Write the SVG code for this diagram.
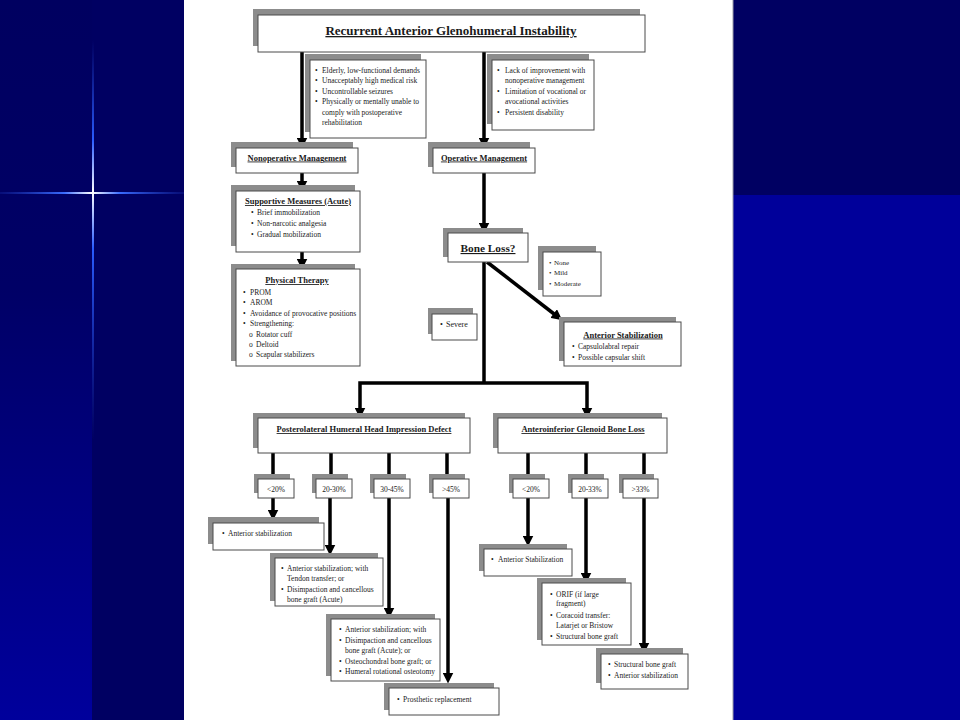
<svg xmlns="http://www.w3.org/2000/svg" width="960" height="720" viewBox="0 0 960 720">
<defs>
<style>
.sh{fill:#8c8c8c}
.bx{fill:#fff;stroke:#4a4a4a;stroke-width:1}
.t{font-family:"Liberation Serif","Times New Roman",serif;font-size:7.5px;fill:#1a1a1a}
.h{font-family:"Liberation Serif","Times New Roman",serif;font-size:8.5px;font-weight:bold;fill:#1a1a1a;text-decoration:underline;text-anchor:middle}
.c{text-anchor:middle}
.ln{fill:none;stroke:#000;stroke-width:3.5;stroke-linejoin:miter}
.ar{fill:none;stroke:#000;stroke-width:3.5;stroke-linejoin:miter;marker-end:url(#ah)}
</style>
<marker id="ah" markerUnits="userSpaceOnUse" markerWidth="11" markerHeight="11" viewBox="0 0 10 10" refX="5" refY="5" orient="auto">
<path d="M0,0 L10,5 L0,10 z" fill="#000"/>
</marker>
<linearGradient id="lg" x1="0" y1="0" x2="0" y2="1">
<stop offset="0" stop-color="#000060"/>
<stop offset="0.4" stop-color="#000066"/>
<stop offset="1" stop-color="#00009c"/>
</linearGradient>
<linearGradient id="hx" gradientUnits="userSpaceOnUse" x1="0" y1="0" x2="184" y2="0">
<stop offset="0" stop-color="#2244cc" stop-opacity="0.2"/>
<stop offset="0.35" stop-color="#3a6cff"/>
<stop offset="0.5" stop-color="#ffffff"/>
<stop offset="0.65" stop-color="#3a6cff"/>
<stop offset="1" stop-color="#2244cc" stop-opacity="0.2"/>
</linearGradient>
<linearGradient id="vx" gradientUnits="userSpaceOnUse" x1="0" y1="40" x2="0" y2="440">
<stop offset="0" stop-color="#2244cc" stop-opacity="0"/>
<stop offset="0.25" stop-color="#2a5cff"/>
<stop offset="0.38" stop-color="#ffffff"/>
<stop offset="0.52" stop-color="#2a5cff"/>
<stop offset="1" stop-color="#2244cc" stop-opacity="0"/>
</linearGradient>
</defs>

<!-- background -->
<rect x="0" y="0" width="960" height="720" fill="#000062"/>
<rect x="0" y="0" width="92" height="720" fill="url(#lg)"/>
<rect x="733" y="195" width="227" height="525" fill="#00009a"/>
<rect x="0" y="192" width="184" height="2" fill="url(#hx)"/>
<rect x="92" y="40" width="2" height="400" fill="url(#vx)"/>
<rect x="184" y="0" width="549" height="720" fill="#fff"/>
<line x1="733" y1="0" x2="733" y2="720" stroke="#9a9aa8" stroke-width="1"/>

<!-- connectors -->
<g id="connectors">
<path class="ar" d="M302,52 V143"/>
<path class="ar" d="M484,52 V143"/>
<path class="ar" d="M302,173 V186"/>
<path class="ar" d="M302,252 V264"/>
<path class="ar" d="M484,173 V228"/>
<path class="ar" d="M487,262 L558,317"/>
<path class="ln" d="M484,262 V383"/>
<path class="ar" d="M484,383 H360 V413"/>
<path class="ar" d="M484,383 H587 V413"/>
<path class="ln" d="M273,453 V479 M331,453 V479 M389,453 V479 M447,453 V479 M528,453 V479 M586,453 V479 M644,453 V479"/>
<path class="ar" d="M273,498 V515"/>
<path class="ar" d="M330,498 V550"/>
<path class="ar" d="M389,498 V613"/>
<path class="ar" d="M448,498 V678"/>
<path class="ar" d="M528,498 V541"/>
<path class="ar" d="M586,498 V578"/>
<path class="ar" d="M644,498 V648"/>
</g>

<g id="title">
<rect class="sh" x="253" y="9" width="387" height="37"/>
<rect class="bx" x="258" y="15" width="387" height="37"/>
<text class="h" x="451" y="35" style="font-size:13px">Recurrent Anterior Glenohumeral Instability</text>
</g>

<g id="crit-nonop">
<rect class="sh" x="305" y="54" width="116" height="78"/>
<rect class="bx" x="310" y="60" width="116" height="78"/>
<text class="t"><tspan x="315" y="72.5">•</tspan><tspan x="322" y="72.5">Elderly, low-functional demands</tspan>
<tspan x="315" y="83">•</tspan><tspan x="322" y="83">Unacceptably high medical risk</tspan>
<tspan x="315" y="93.5">•</tspan><tspan x="322" y="93.5">Uncontrollable seizures</tspan>
<tspan x="315" y="104">•</tspan><tspan x="322" y="104">Physically or mentally unable to</tspan>
<tspan x="322" y="114.5">comply with postoperative</tspan>
<tspan x="322" y="125">rehabilitation</tspan></text>
</g>

<g id="crit-op">
<rect class="sh" x="487" y="54" width="102" height="70"/>
<rect class="bx" x="492" y="60" width="102" height="70"/>
<text class="t"><tspan x="497" y="72.5">•</tspan><tspan x="505" y="72.5">Lack of improvement with</tspan>
<tspan x="505" y="83">nonoperative management</tspan>
<tspan x="497" y="93.5">•</tspan><tspan x="505" y="93.5">Limitation of vocational or</tspan>
<tspan x="505" y="104">avocational activities</tspan>
<tspan x="497" y="114.5">•</tspan><tspan x="505" y="114.5">Persistent disability</tspan></text>
</g>

<g id="nonop">
<rect class="sh" x="231" y="142" width="122" height="25"/>
<rect class="bx" x="236" y="148" width="122" height="25"/>
<text class="h" x="297" y="160.5">Nonoperative Management</text>
</g>

<g id="op">
<rect class="sh" x="428" y="142" width="102" height="25"/>
<rect class="bx" x="433" y="148" width="102" height="25"/>
<text class="h" x="484" y="160.5">Operative Management</text>
</g>

<g id="supportive">
<rect class="sh" x="231" y="185" width="124" height="61"/>
<rect class="bx" x="236" y="191" width="124" height="61"/>
<text class="h" x="298" y="204">Supportive Measures (Acute)</text>
<text class="t"><tspan x="251" y="214.5">•</tspan><tspan x="257" y="214.5">Brief immobilization</tspan>
<tspan x="251" y="226">•</tspan><tspan x="257" y="226">Non-narcotic analgesia</tspan>
<tspan x="251" y="237">•</tspan><tspan x="257" y="237">Gradual mobilization</tspan></text>
</g>

<g id="pt">
<rect class="sh" x="231" y="264" width="124" height="97"/>
<rect class="bx" x="236" y="269" width="124" height="97"/>
<text class="h" x="297" y="283">Physical Therapy</text>
<text class="t"><tspan x="243" y="294.5">•</tspan><tspan x="250" y="294.5">PROM</tspan>
<tspan x="243" y="304.5">•</tspan><tspan x="250" y="304.5">AROM</tspan>
<tspan x="243" y="315.5">•</tspan><tspan x="250" y="315.5">Avoidance of provocative positions</tspan>
<tspan x="243" y="325.5">•</tspan><tspan x="250" y="325.5">Strengthening:</tspan>
<tspan x="249" y="336.5">o</tspan><tspan x="256" y="336.5">Rotator cuff</tspan>
<tspan x="249" y="346.5">o</tspan><tspan x="256" y="346.5">Deltoid</tspan>
<tspan x="249" y="356.5">o</tspan><tspan x="256" y="356.5">Scapular stabilizers</tspan></text>
</g>

<g id="boneloss">
<rect class="sh" x="443" y="228" width="80" height="29"/>
<rect class="bx" x="448" y="233" width="80" height="29"/>
<text class="h" x="488" y="252" style="font-size:11.3px">Bone Loss?</text>
</g>

<g id="severity-mild">
<rect class="sh" x="538" y="246" width="58" height="44"/>
<rect class="bx" x="543" y="252" width="58" height="44"/>
<text class="t" style="font-size:7px"><tspan x="549" y="265">•</tspan><tspan x="554" y="265">None</tspan>
<tspan x="549" y="275">•</tspan><tspan x="554" y="275">Mild</tspan>
<tspan x="549" y="286">•</tspan><tspan x="554" y="286">Moderate</tspan></text>
</g>

<g id="severity-severe">
<rect class="sh" x="428" y="308" width="45" height="26"/>
<rect class="bx" x="432" y="314" width="45" height="26"/>
<text class="t" style="font-size:8px"><tspan x="440" y="327">•</tspan><tspan x="446" y="327">Severe</tspan></text>
</g>

<g id="antstab">
<rect class="sh" x="559" y="317" width="117" height="44"/>
<rect class="bx" x="564" y="322" width="117" height="44"/>
<text class="h" x="623" y="337.5">Anterior Stabilization</text>
<text class="t"><tspan x="572" y="349">•</tspan><tspan x="578" y="349">Capsulolabral repair</tspan>
<tspan x="572" y="360">•</tspan><tspan x="578" y="360">Possible capsular shift</tspan></text>
</g>

<g id="posterolateral">
<rect class="sh" x="253" y="413" width="212" height="35"/>
<rect class="bx" x="258" y="418" width="212" height="35"/>
<text class="h" x="364" y="432">Posterolateral Humeral Head Impression Defect</text>
</g>

<g id="anteroinferior">
<rect class="sh" x="493" y="413" width="169" height="35"/>
<rect class="bx" x="498" y="418" width="169" height="35"/>
<text class="h" x="583" y="432">Anteroinferior Glenoid Bone Loss</text>
</g>

<g id="p-lt20">
<rect class="sh" x="254" y="474" width="36" height="19"/>
<rect class="bx" x="258" y="479" width="36" height="19"/>
<text class="t c" x="276" y="491.5">&lt;20%</text>
</g>
<g id="p-20-30">
<rect class="sh" x="312" y="474" width="36" height="19"/>
<rect class="bx" x="316" y="479" width="36" height="19"/>
<text class="t c" x="334" y="491.5">20-30%</text>
</g>
<g id="p-30-45">
<rect class="sh" x="370" y="474" width="36" height="19"/>
<rect class="bx" x="374" y="479" width="36" height="19"/>
<text class="t c" x="392" y="491.5">30-45%</text>
</g>
<g id="p-gt45">
<rect class="sh" x="429" y="474" width="36" height="19"/>
<rect class="bx" x="433" y="479" width="36" height="19"/>
<text class="t c" x="451" y="491.5">&gt;45%</text>
</g>
<g id="a-lt20">
<rect class="sh" x="509" y="474" width="36" height="19"/>
<rect class="bx" x="513" y="479" width="36" height="19"/>
<text class="t c" x="531" y="491.5">&lt;20%</text>
</g>
<g id="a-20-33">
<rect class="sh" x="568" y="474" width="36" height="19"/>
<rect class="bx" x="572" y="479" width="36" height="19"/>
<text class="t c" x="590" y="491.5">20-33%</text>
</g>
<g id="a-gt33">
<rect class="sh" x="619" y="474" width="35" height="19"/>
<rect class="bx" x="623" y="479" width="35" height="19"/>
<text class="t c" x="640.5" y="491.5">&gt;33%</text>
</g>

<g id="out-p1">
<rect class="sh" x="208" y="517" width="111" height="27"/>
<rect class="bx" x="213" y="523" width="111" height="27"/>
<text class="t"><tspan x="222" y="536">•</tspan><tspan x="228" y="536">Anterior stabilization</tspan></text>
</g>

<g id="out-p2">
<rect class="sh" x="270" y="553" width="108" height="48"/>
<rect class="bx" x="275" y="558" width="108" height="48"/>
<text class="t"><tspan x="281" y="570.5">•</tspan><tspan x="287" y="570.5">Anterior stabilization; with</tspan>
<tspan x="287" y="581">Tendon transfer; or</tspan>
<tspan x="281" y="591.5">•</tspan><tspan x="287" y="591.5">Disimpaction and cancellous</tspan>
<tspan x="287" y="601.5">bone graft (Acute)</tspan></text>
</g>

<g id="out-p3">
<rect class="sh" x="326" y="614" width="109" height="62"/>
<rect class="bx" x="331" y="619" width="109" height="62"/>
<text class="t"><tspan x="339" y="631.5">•</tspan><tspan x="345" y="631.5">Anterior stabilization; with</tspan>
<tspan x="339" y="642.5">•</tspan><tspan x="345" y="642.5">Disimpaction and cancellous</tspan>
<tspan x="345" y="652.5">bone graft (Acute); or</tspan>
<tspan x="339" y="663.5">•</tspan><tspan x="345" y="663.5">Osteochondral bone graft; or</tspan>
<tspan x="339" y="673.5">•</tspan><tspan x="345" y="673.5">Humeral rotational osteotomy</tspan></text>
</g>

<g id="out-p4">
<rect class="sh" x="384" y="683" width="110" height="27"/>
<rect class="bx" x="389" y="688" width="110" height="27"/>
<text class="t"><tspan x="397" y="701.5">•</tspan><tspan x="403" y="701.5">Prosthetic replacement</tspan></text>
</g>

<g id="out-a1">
<rect class="sh" x="479" y="544" width="88" height="27"/>
<rect class="bx" x="484" y="549" width="88" height="27"/>
<text class="t"><tspan x="491" y="561.5">•</tspan><tspan x="498" y="561.5">Anterior Stabilization</tspan></text>
</g>

<g id="out-a2">
<rect class="sh" x="537" y="578" width="89" height="62"/>
<rect class="bx" x="542" y="583" width="89" height="62"/>
<text class="t"><tspan x="550" y="596.5">•</tspan><tspan x="556" y="596.5">ORIF (if large</tspan>
<tspan x="556" y="606">fragment)</tspan>
<tspan x="550" y="617.5">•</tspan><tspan x="556" y="617.5">Coracoid transfer:</tspan>
<tspan x="556" y="627.5">Latarjet or Bristow</tspan>
<tspan x="550" y="638.5">•</tspan><tspan x="556" y="638.5">Structural bone graft</tspan></text>
</g>

<g id="out-a3">
<rect class="sh" x="596" y="648" width="87" height="35"/>
<rect class="bx" x="601" y="654" width="87" height="35"/>
<text class="t"><tspan x="608" y="666.5">•</tspan><tspan x="614" y="666.5">Structural bone graft</tspan>
<tspan x="608" y="677.5">•</tspan><tspan x="614" y="677.5">Anterior stabilization</tspan></text>
</g>
</svg>
